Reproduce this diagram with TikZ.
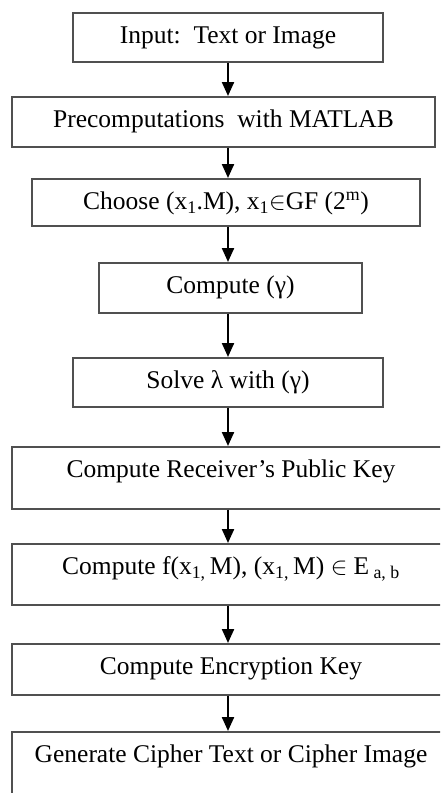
\documentclass[tikz,border=0pt]{standalone}
\usepackage{fontspec}
\setmainfont{Liberation Serif}
\usetikzlibrary{arrows.meta}
\definecolor{boxgray}{RGB}{80,80,80}

\begin{document}
\begin{tikzpicture}[x=1pt, y=-1pt,
    b/.style={draw=boxgray, line width=1.6pt, anchor=north, inner sep=0pt,
              text height=31pt, font=\fontsize{25.5}{30}\selectfont},
    a/.style={-{Triangle[width=12pt,length=14pt]}, line width=2.2pt, black}]
    \useasboundingbox (0,0) rectangle (440,793);
    \clip (0,0) rectangle (440,793);
    \coordinate (axis) at (228,0);
    \node[b, minimum width=310pt, text depth=18pt] (inp) at (228,12)  {Input:\ \ Text or Image};
    \node[b, minimum width=423pt, text depth=19pt] (pre) at (223.5,96) {Precomputations\ \ with MATLAB};
    \node[b, minimum width=388pt, text depth=16pt] (cho) at (226,178) {Choose (x\textsubscript{1}.M), x\textsubscript{1}$\in$GF (2\textsuperscript{m})};
    \node[b, minimum width=263pt, text depth=19pt] (gam) at (230.5,262) {Compute (γ)};
    \node[b, minimum width=310pt, text depth=18pt] (lam) at (228,357) {Solve λ with (γ)};
    \node[b, minimum width=438pt, text depth=31pt] (pub) at (231,446) {Compute Receiver’s Public Key};
    \node[b, minimum width=438pt, text depth=30pt] (fxm) at (231,543) {Compute f(x\textsubscript{1,}\,M), (x\textsubscript{1,}\,M) $\in$ E\,\textsubscript{a, b}};
    \node[b, minimum width=438pt, text depth=20pt] (enc) at (231,643) {Compute Encryption Key};
    \node[b, minimum width=438pt, text depth=33pt] (cip) at (231,731) {Generate Cipher Text or Cipher Image};
    \draw[a] (axis |- inp.south) -- (axis |- pre.north);
    \draw[a] (axis |- pre.south) -- (axis |- cho.north);
    \draw[a] (axis |- cho.south) -- (axis |- gam.north);
    \draw[a] (axis |- gam.south) -- (axis |- lam.north);
    \draw[a] (axis |- lam.south) -- (axis |- pub.north);
    \draw[a] (axis |- pub.south) -- (axis |- fxm.north);
    \draw[a] (axis |- fxm.south) -- (axis |- enc.north);
    \draw[a] (axis |- enc.south) -- (axis |- cip.north);
\end{tikzpicture}
\end{document}
